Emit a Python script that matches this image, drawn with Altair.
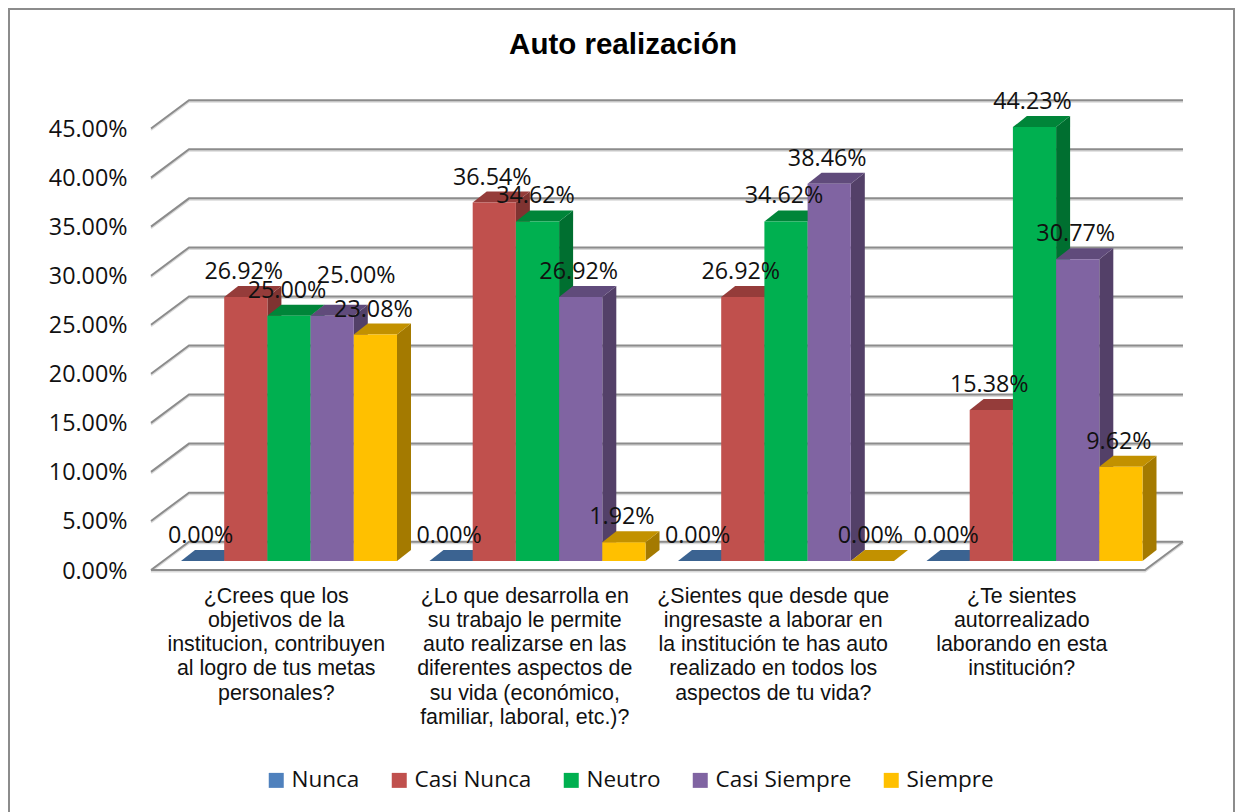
import altair as alt
import pandas as pd

TITLE = "Auto realización"
SERIES = ["Nunca", "Casi Nunca", "Neutro", "Casi Siempre", "Siempre"]
FRONT = ["#4F81BD", "#C0504D", "#00B050", "#8064A2", "#FFC000"]
TOP = ["#3B6391", "#953C3A", "#008539", "#604B7B", "#C29100"]
SIDE = ["#325379", "#7F3331", "#006F30", "#534068", "#A47A00"]
QUESTIONS = [
    "¿Crees que los\nobjetivos de la\ninstitucion, contribuyen\nal logro de tus metas\npersonales?",
    "¿Lo que desarrolla en\nsu trabajo le permite\nauto realizarse en las\ndiferentes aspectos de\nsu vida (económico,\nfamiliar, laboral, etc.)?",
    "¿Sientes que desde que\ningresaste a laborar en\nla institución te has auto\nrealizado en todos los\naspectos de tu vida?",
    "¿Te sientes\nautorrealizado\nlaborando en esta\ninstitución?",
]
NUNCA = [0.00, 0.00, 0.00, 0.00]
CASI_NUNCA = [26.92, 36.54, 26.92, 15.38]
NEUTRO = [25.00, 34.62, 34.62, 44.23]
CASI_SIEMPRE = [25.00, 26.92, 38.46, 30.77]
SIEMPRE = [23.08, 1.92, 0.00, 9.62]
VALUES = [NUNCA, CASI_NUNCA, NEUTRO, CASI_SIEMPRE, SIEMPRE]
TICKS = [0, 5, 10, 15, 20, 25, 30, 35, 40, 45]

W, H = 1227, 804
PX = 9.81
Y0 = 570


def v(page_y):
    return (Y0 - page_y) / PX


xs = alt.Scale(domain=[8, 8 + W], range=[0, W], nice=False, zero=False)
ys = alt.Scale(domain=[v(8 + H), v(8)], range=[H, 0], nice=False, zero=False)
FONT = "Open Sans"
GREY = "#8C8C8C"
YAX = alt.Axis(
    values=TICKS,
    offset=-(151 - 8),
    domain=False,
    ticks=False,
    grid=False,
    title=None,
    labelPadding=24,
    labelOffset=1,
    labelFont=FONT,
    labelFontSize=23.3,
    labelColor="#111111",
    labelExpr="format(datum.value, '.2f') + '%'",
)
X = lambda f: alt.X(f, type="quantitative", scale=xs, axis=None)
X2 = lambda f: alt.X2(f)
Y = lambda f: alt.Y(f, type="quantitative", scale=ys, axis=YAX, stack=None)

FL, FR = 151, 1145
BDX, BDY = 38, 28.3 / PX
BASE = 9 / PX
DX, DY = 14, 11 / PX
BW, STEP = 43.2, 248.5
START = 181
# the one data label Excel had moved by hand: (question, series) -> (px right, px up)
MOVED = {(0, 3): (26, 15)}

grid = []
for t in TICKS:
    for i, (x, y) in enumerate([(FL, t), (FL + BDX, t + BDY), (FR + BDX, t + BDY)]):
        grid.append({"line": f"g{t}", "i": i, "x": x, "y": y})
for i, (x, y) in enumerate([(FL, 0), (FR, 0), (FR + BDX, BDY)]):
    grid.append({"line": "floor", "i": i, "x": x, "y": y})
grid = pd.DataFrame(grid)

side, top, front, labels = [], [], [], []
for c in range(len(QUESTIONS)):
    for s, name in enumerate(SERIES):
        val = VALUES[s][c]
        x0 = START + c * STEP + s * BW
        x1 = x0 + BW
        b = BASE
        t = BASE + val
        bar = f"{c}-{s}"
        front.append({"series": name, "x": x0, "x2": x1, "y": t, "y2": b})
        mx, my = MOVED.get((c, s), (0, 0))
        labels.append({"x": (x0 + x1) / 2 + mx, "y": t + my / PX, "label": f"{val:.2f}%"})
        for i, (x, a, e) in enumerate([(x1, t, b), (x1 + DX, t + DY, b + DY)]):
            side.append({"bar": bar, "i": i, "x": x, "y": a, "y2": e, "shade": SIDE[s]})
        for i, (x, a, e) in enumerate(
            [(x0, t, t), (x0 + DX, t + DY, t), (x1, t + DY, t), (x1 + DX, t + DY, t + DY)]
        ):
            top.append({"bar": bar, "i": i, "x": x, "y": a, "y2": e, "shade": TOP[s]})

border = pd.DataFrame([{"x": 9, "x2": 1234, "y": v(9), "y2": v(830)}])
border_layer = alt.Chart(border).mark_rect(
    filled=False, stroke=GREY, strokeWidth=2, clip=True
).encode(x=X("x"), x2=X2("x2"), y=Y("y"), y2=alt.Y2("y2"))

shadow_layer = alt.Chart(grid).mark_line(color="#DADADA", strokeWidth=2, yOffset=1.5).encode(
    x=X("x"), y=Y("y"), detail="line:N", order="i:Q"
)
axis_layer = alt.Chart(grid).mark_line(color=GREY, strokeWidth=2).encode(
    x=X("x"), y=Y("y"), detail="line:N", order="i:Q"
)

side_layer = alt.Chart(pd.DataFrame(side)).mark_area(orient="vertical", opacity=1).encode(
    x=X("x"),
    y=Y("y"),
    y2=alt.Y2("y2"),
    color=alt.Color("shade:N", scale=None, legend=None),
    detail="bar:N",
)
top_layer = alt.Chart(pd.DataFrame(top)).mark_area(orient="vertical", opacity=1).encode(
    x=X("x"),
    y=Y("y"),
    y2=alt.Y2("y2"),
    color=alt.Color("shade:N", scale=None, legend=None),
    detail="bar:N",
)

front_layer = alt.Chart(pd.DataFrame(front)).mark_bar(opacity=1).encode(
    x=X("x"),
    x2=X2("x2"),
    y=Y("y"),
    y2=alt.Y2("y2"),
    color=alt.Color(
        "series:N",
        scale=alt.Scale(domain=SERIES, range=FRONT),
        sort=SERIES,
        legend=alt.Legend(
            title=None,
            orient="none",
            direction="horizontal",
            legendX=257,
            legendY=761,
            symbolType="square",
            symbolSize=225,
            symbolStrokeWidth=0,
            symbolOpacity=1,
            labelFont=FONT,
            labelFontSize=22.5,
            labelColor="#111111",
            labelOffset=4,
            columnPadding=28,
            labelLimit=300,
            values=SERIES,
        ),
    ),
)

label_layer = alt.Chart(pd.DataFrame(labels)).mark_text(
    font=FONT, fontSize=23.3, color="#111111", dx=-2, dy=-25, baseline="middle"
).encode(x=X("x"), y=Y("y"), text="label:N")

cats = pd.DataFrame(
    [
        {"x": FL + 1 + (c + 0.5) * STEP, "y": v(585.5), "q": q}
        for c, q in enumerate(QUESTIONS)
    ]
)
cat_layer = alt.Chart(cats).mark_text(
    font="Liberation Sans",
    fontSize=21.4,
    color="#111111",
    baseline="top",
    align="center",
    lineBreak="\n",
    lineHeight=24.3,
).encode(x=X("x"), y=Y("y"), text="q:N")

chart = (
    alt.layer(
        border_layer,
        shadow_layer,
        axis_layer,
        side_layer,
        top_layer,
        front_layer,
        label_layer,
        cat_layer,
    )
    .resolve_scale(color="independent")
    .properties(
        width=W,
        height=H,
        padding=0,
        autosize=alt.AutoSizeParams(type="none"),
        background="white",
        title=alt.TitleParams(
            TITLE,
            anchor="middle",
            font="Liberation Sans",
            fontSize=29.5,
            fontWeight="bold",
            color="#000000",
            dy=56,
            dx=1.5,
        ),
    )
    .configure_view(stroke=None)
)

chart.save("out.html", embed_options={"renderer": "svg", "actions": False})
